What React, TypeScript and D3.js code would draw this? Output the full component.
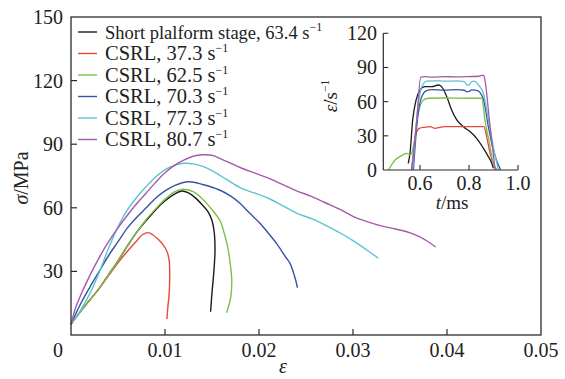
import { useMemo } from "react";
import { scaleLinear, line, curveCatmullRom, curveMonotoneX } from "d3";

// ---- data ----
type Pt = [number, number];

const seriesNames = [
  "Short plalform stage, 63.4 s",
  "CSRL, 37.3 s",
  "CSRL, 62.5 s",
  "CSRL, 70.3 s",
  "CSRL, 77.3 s",
  "CSRL, 80.7 s",
];
const seriesColors = ["#1b1b1b", "#e8473a", "#7cc045", "#3553a5", "#5cc3d1", "#a45aa9"];

// stress–strain (ε, σ/MPa)
const shortPlateau: Pt[] = [
  [0, 5], [0.001, 11], [0.002, 16.5], [0.003, 22], [0.004, 28.5], [0.005, 35], [0.006, 42],
  [0.007, 48.5], [0.008, 54], [0.009, 59], [0.01, 63.3], [0.011, 66.5], [0.0118, 67.9],
  [0.0125, 67], [0.0132, 64.8], [0.014, 61.2], [0.0146, 58], [0.015, 54], [0.01525, 48],
  [0.01532, 40], [0.0152, 30], [0.015, 20], [0.01485, 11],
];
const csrl373: Pt[] = [
  [0, 5], [0.001, 11], [0.002, 16.5], [0.003, 22], [0.004, 28], [0.005, 34], [0.006, 39.5],
  [0.007, 44.5], [0.0076, 47.3], [0.0082, 48.3], [0.0087, 47.3], [0.0093, 45], [0.0098, 42.5],
  [0.0102, 39.5], [0.01045, 35], [0.0105, 28], [0.01045, 20], [0.0103, 13], [0.0102, 7.5],
];
const csrl625: Pt[] = [
  [0, 5], [0.001, 11], [0.002, 16.5], [0.003, 22], [0.004, 28.5], [0.005, 35], [0.006, 42],
  [0.007, 48.5], [0.008, 54.5], [0.009, 59.5], [0.01, 64], [0.011, 67.5], [0.0118, 68.7],
  [0.013, 67.6], [0.0138, 65], [0.01443, 62.1], [0.0152, 58], [0.01585, 54], [0.0163, 48],
  [0.01665, 42], [0.0169, 35], [0.0171, 26], [0.017, 18], [0.01656, 10.5],
];
const csrl703: Pt[] = [
  [0, 5], [0.001, 14.5], [0.002, 22.5], [0.003, 30], [0.004, 37.5], [0.005, 44], [0.006, 50.5],
  [0.007, 55.5], [0.008, 60], [0.009, 64.5], [0.01, 68], [0.011, 70.5], [0.0125, 72.3],
  [0.014, 71], [0.0158, 68.4], [0.017, 65.5], [0.018, 62], [0.019, 57.5], [0.0201, 52.7],
  [0.021, 48], [0.0219, 43], [0.0228, 37], [0.0233, 33.8], [0.0238, 27.5], [0.0241, 22.3],
];
const csrl773: Pt[] = [
  [0, 5], [0.001, 11.5], [0.002, 19.5], [0.003, 29.5], [0.004, 41], [0.005, 51], [0.006, 59],
  [0.007, 65], [0.008, 70], [0.009, 74.5], [0.01, 78], [0.011, 80], [0.012, 81], [0.013, 80.7],
  [0.014, 79.5], [0.015, 77.5], [0.0165, 73.5], [0.018, 69.5], [0.0195, 67], [0.021, 64.5],
  [0.0225, 61], [0.024, 57.5], [0.0258, 54.5], [0.0272, 51.5], [0.0287, 48], [0.03, 44.5],
  [0.0315, 40], [0.0327, 36.2],
];
const csrl807: Pt[] = [
  [0, 5], [0.0005, 13], [0.001, 18.5], [0.002, 28], [0.003, 36.5], [0.004, 44], [0.005, 50.5],
  [0.006, 56.5], [0.007, 62], [0.008, 67], [0.009, 72], [0.01, 76.5], [0.011, 80], [0.012, 82.5],
  [0.013, 84.3], [0.014, 85], [0.015, 84.8], [0.016, 83], [0.017, 81], [0.018, 79],
  [0.0195, 76.5], [0.021, 74], [0.0225, 71], [0.024, 68], [0.0255, 65.5], [0.027, 62.5],
  [0.0285, 59.5], [0.03, 56], [0.0315, 53.5], [0.033, 51.5], [0.0345, 50], [0.036, 48.3],
  [0.037, 46.5], [0.038, 44], [0.0388, 41.5],
];
const stressStrain = [shortPlateau, csrl373, csrl625, csrl703, csrl773, csrl807];

// strain rate history (t/ms, ε̇/s⁻¹)
const rateShort: Pt[] = [
  [0.552, 5.9], [0.559, 14.6], [0.57, 44], [0.584, 61.5], [0.6, 70.2], [0.62, 73.2], [0.648, 73.2],
  [0.675, 74.6], [0.688, 73.2], [0.709, 64.4], [0.729, 52.7], [0.75, 44], [0.777, 38],
  [0.804, 33.7], [0.831, 27.8], [0.859, 19], [0.879, 11.7], [0.893, 5.9], [0.899, 1.5],
];
const rate373: Pt[] = [
  [0.565, 0], [0.573, 14.6], [0.584, 32.2], [0.597, 36.6], [0.62, 37.5], [0.641, 38], [0.661, 36.6],
  [0.682, 37.5], [0.702, 38], [0.75, 38], [0.8, 38], [0.861, 38], [0.872, 29.3], [0.886, 14.6],
  [0.899, 5.9], [0.913, 0],
];
const rate625: Pt[] = [
  [0.471, 0], [0.485, 5], [0.498, 8.8], [0.518, 11.7], [0.546, 14.6], [0.559, 13.2], [0.566, 15],
  [0.58, 29.3], [0.593, 49.8], [0.614, 61.5], [0.634, 63], [0.7, 63.2], [0.8, 63], [0.852, 63],
  [0.865, 44], [0.886, 20.5], [0.899, 5.9], [0.913, 0],
];
const rate703: Pt[] = [
  [0.573, 0], [0.589, 44], [0.607, 64.4], [0.627, 69.7], [0.65, 70.5], [0.7, 70.2], [0.75, 70.5],
  [0.78, 70], [0.793, 68.5], [0.8, 69], [0.81, 70.3], [0.838, 69.4], [0.848, 67], [0.858, 62.9],
  [0.879, 38], [0.899, 17.6], [0.929, 0],
];
const rate773: Pt[] = [
  [0.57, 0], [0.586, 44], [0.607, 73], [0.627, 78], [0.66, 78.3], [0.7, 78], [0.75, 78.2],
  [0.78, 77.5], [0.793, 74.6], [0.8, 74.5], [0.811, 77.6], [0.822, 78], [0.835, 75.5],
  [0.848, 72], [0.858, 68], [0.879, 44], [0.899, 20.5], [0.92, 0],
];
const rate807: Pt[] = [
  [0.566, 0], [0.585, 40], [0.603, 81.5], [0.62, 82], [0.65, 81.6], [0.7, 82], [0.75, 81.7],
  [0.8, 82], [0.84, 82.3], [0.857, 83.3], [0.862, 82], [0.869, 73], [0.883, 44], [0.899, 14.6],
  [0.906, 0],
];
const strainRate = [rateShort, rate373, rate625, rate703, rate773, rate807];

const xTicks = [0, 0.01, 0.02, 0.03, 0.04, 0.05];
const yTicks = [30, 60, 90, 120, 150];
const insetXTicks = [0.6, 0.8, 1.0];
const insetYTicks = [0, 30, 60, 90, 120];

const FONT = "'Liberation Serif', 'Times New Roman', serif";
const AXIS = "#2b2b2b";
const TXT = "#222";

export default function App() {
  const width = 565;
  const height = 379;
  const m = { left: 71, right: 541, top: 17, bottom: 335 };

  const x = scaleLinear().domain([0, 0.05]).range([m.left, m.right]);
  const y = scaleLinear().domain([0, 150]).range([m.bottom, m.top]);

  const xi = scaleLinear().domain([0.45, 1.0]).range([383.3, 518]);
  const yi = scaleLinear().domain([0, 120]).range([170, 33.3]);

  const mainLine = useMemo(
    () => line<Pt>().x((d) => x(d[0])).y((d) => y(d[1])).curve(curveCatmullRom.alpha(0.5)),
    [],
  );
  const insetLine = useMemo(
    () => line<Pt>().x((d) => xi(d[0])).y((d) => yi(d[1])).curve(curveMonotoneX),
    [],
  );

  return (
    <div style={{ position: "fixed", left: 0, top: 0 }}>
      <svg width={width} height={height} viewBox={`0 0 ${width} ${height}`} fontFamily={FONT}>
        <rect width={width} height={height} fill="#fff" />

        {/* curves */}
        {stressStrain.map((d, i) => (
          <path key={`s-${i}`} d={mainLine(d) ?? ""} fill="none" stroke={seriesColors[i]} strokeWidth={1.4} />
        ))}

        {/* frame */}
        <rect
          x={m.left}
          y={m.top}
          width={m.right - m.left}
          height={m.bottom - m.top}
          fill="none"
          stroke={AXIS}
          strokeWidth={1.3}
        />

        {/* x ticks */}
        {xTicks.map((t) => (
          <g key={`xt-${t}`}>
            {t > 0 && t < 0.05 && (
              <line x1={x(t)} x2={x(t)} y1={m.bottom} y2={m.bottom - 6} stroke={AXIS} strokeWidth={1.2} />
            )}
            <text x={t === 0 ? 58 : x(t)} y={357} textAnchor="middle" fontSize={20} fill={TXT}>
              {t === 0 ? "0" : t.toFixed(2)}
            </text>
          </g>
        ))}

        {/* y ticks */}
        {yTicks.map((t) => (
          <g key={`yt-${t}`}>
            {t < 150 && (
              <line x1={m.left} x2={m.left + 6} y1={y(t)} y2={y(t)} stroke={AXIS} strokeWidth={1.2} />
            )}
            <text x={63} y={y(t) + 7} textAnchor="end" fontSize={20} fill={TXT}>
              {t}
            </text>
          </g>
        ))}

        {/* axis titles */}
        <text x={283} y={373} textAnchor="middle" fontSize={20} fontStyle="italic" fill={TXT}>
          ε
        </text>
        <text transform="translate(28,178) rotate(-90)" textAnchor="middle" fontSize={20} fill={TXT}>
          <tspan fontStyle="italic">σ</tspan>/MPa
        </text>

        {/* legend */}
        {seriesNames.map((name, i) => {
          const ly = 32 + i * 21.5;
          return (
            <g key={`lg-${i}`}>
              <line x1={78} x2={97} y1={ly} y2={ly} stroke={seriesColors[i]} strokeWidth={1.4} />
              <text x={105} y={ly + 6.5} fontSize={i === 0 ? 18.5 : 20.5} fill={TXT}>
                {name}
                <tspan dy={-8} fontSize={12}>−1</tspan>
              </text>
            </g>
          );
        })}

        {/* inset */}
        <g>
          {strainRate.map((d, i) => (
            <path key={`r-${i}`} d={insetLine(d) ?? ""} fill="none" stroke={seriesColors[i]} strokeWidth={1.3} />
          ))}
          <line x1={xi(0.45)} x2={xi(0.45)} y1={yi(0)} y2={yi(120)} stroke={AXIS} strokeWidth={1.2} />
          <line x1={xi(0.45)} x2={xi(1.0)} y1={yi(0)} y2={yi(0)} stroke={AXIS} strokeWidth={1.2} />
          {insetYTicks.map((t) => (
            <g key={`iyt-${t}`}>
              {t > 0 && (
                <line x1={xi(0.45)} x2={xi(0.45) + 5} y1={yi(t)} y2={yi(t)} stroke={AXIS} strokeWidth={1.1} />
              )}
              <text x={377} y={yi(t) + 7} textAnchor="end" fontSize={20} fill={TXT}>
                {t}
              </text>
            </g>
          ))}
          {insetXTicks.map((t) => (
            <g key={`ixt-${t}`}>
              <line x1={xi(t)} x2={xi(t)} y1={yi(0)} y2={yi(0) - 5} stroke={AXIS} strokeWidth={1.1} />
              <text x={xi(t)} y={190} textAnchor="middle" fontSize={20} fill={TXT}>
                {t.toFixed(1)}
              </text>
            </g>
          ))}
          <text x={452} y={209} textAnchor="middle" fontSize={19} fill={TXT}>
            <tspan fontStyle="italic">t</tspan>/ms
          </text>
          <text transform="translate(337,96) rotate(-90)" textAnchor="middle" fontSize={19} fill={TXT}>
            <tspan fontStyle="italic">ε̇</tspan>/s
            <tspan dy={-8} fontSize={11.5}>−1</tspan>
          </text>
        </g>
      </svg>
    </div>
  );
}
